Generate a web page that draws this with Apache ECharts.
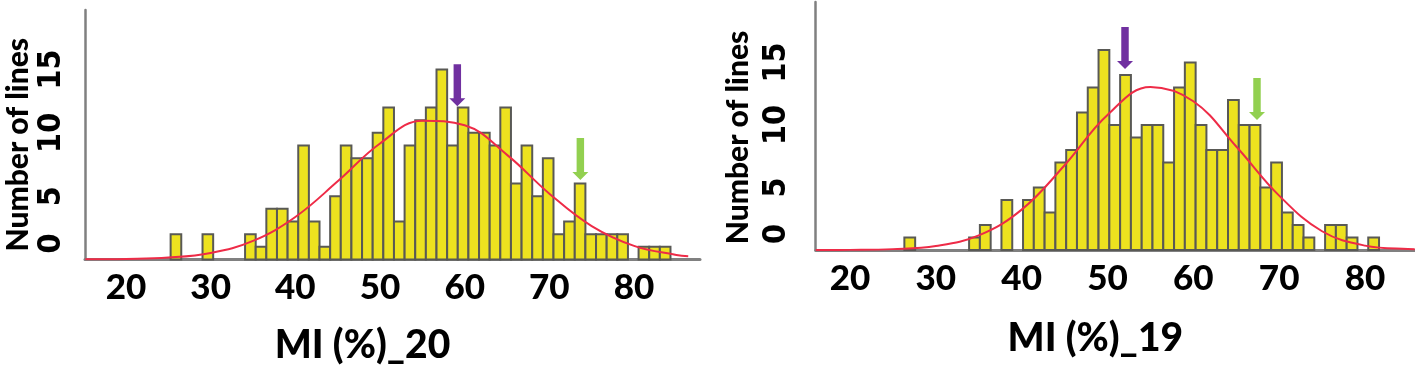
<!DOCTYPE html>
<html>
<head>
<meta charset="utf-8">
<script src="https://cdn.jsdelivr.net/npm/echarts@6/dist/echarts.min.js"></script>
<style>
  html, body { margin: 0; padding: 0; background: #fff; }
  #chart { width: 1415px; height: 374px; }
</style>
</head>
<body>
<div id="chart"></div>
<script>
// histogram counts, read bin by bin
var countsL = [2,0,0,2,0,0,0,2,1,4,4,3,9,3,1,5,9,8,8,10,12,3,9,11,12,15,9,12,10,10,9,12,6,9,5,8,2,3,6,2,2,2,2,0,1,1,1];
var countsR = [1,0,0,0,0,0,1,2,0,4,0,4,5,3,7,8,11,13,16,10,14,9,10,10,7,13,15,10,8,8,12,10,10,5,7,3,2,1,0,2,2,1,0,1];
var binStartL = 25.9, binWidthL = 1.256;
var binStartR = 26.96, binWidthR = 1.257;

// fitted normal curves
var curveXL = [15.2, 20, 25, 30, 35, 40, 45, 50, 55, 60, 65, 70, 75, 80, 85, 86.4];
var curveYL = [0.01, 0.04, 0.15, 0.52, 1.47, 3.36, 6.17, 9.16, 10.96, 10.6, 8.26, 5.2, 2.64, 1.08, 0.36, 0.25];
var curveXR = [16, 20, 25, 30, 35, 40, 45, 50, 55, 60, 65, 70, 75, 80, 85, 85.8];
var curveYR = [0.0, 0.01, 0.07, 0.32, 1.17, 3.23, 6.78, 10.8, 13.04, 11.9, 8.28, 4.35, 1.5, 0.35, 0.08, 0.07];

// arrow tips [x, y]
var arrowsPurple = [[59.13, 12.1], [52.04, 14.48]];
var arrowsGreen = [[73.66, 6.27], [67.42, 10.4]];

var xTicks = [20, 30, 40, 50, 60, 70, 80];
var yTicks = [0, 5, 10, 15];
var xNames = ['MI (%)_20', 'MI (%)_19'];
var yName = 'Number of lines';

var chartDom = document.getElementById('chart');
var myChart = echarts.init(chartDom);

var fontMain = 'Lato, "Open Sans", sans-serif';
var fontNarrow = '"Liberation Sans Narrow", "DejaVu Sans Condensed", Lato, sans-serif';
var arrowPath = 'path://M4 0L11 0L11 34L15 34L7.5 42L0 34L4 34Z';

function bins(counts, start, width) {
    var out = [];
    counts.forEach(function (c, i) {
        out.push([start + i * width, c]);
    });
    return out;
}

function pairs(xs, ys) {
    return xs.map(function (x, i) { return [x, ys[i]]; });
}

function barRenderer(width) {
    return function (params, api) {
        var c = api.value(0), n = api.value(1);
        if (!n) return null;
        var p0 = api.coord([c - width / 2, n]);
        var p1 = api.coord([c + width / 2, 0]);
        return {
            type: 'rect',
            shape: { x: p0[0], y: p0[1], width: p1[0] - p0[0], height: p1[1] - p0[1] },
            style: { fill: '#EDE21F', stroke: '#595955', lineWidth: 2 }
        };
    };
}

function yAxisOf(idx, max, nameGap, namePad, margin) {
    return {
        gridIndex: idx,
        type: 'value',
        min: 0,
        max: max,
        name: yName,
        nameLocation: 'middle',
        nameRotate: 90,
        nameGap: nameGap,
        nameTextStyle: {
            color: '#000', fontSize: 30, fontWeight: 900, fontFamily: fontMain,
            padding: [0, namePad, 0, 0]
        },
        axisLine: { show: true, lineStyle: { color: '#808080', width: 2.5 } },
        axisTick: { show: false },
        splitLine: { show: false },
        axisLabel: {
            customValues: yTicks,
            rotate: 90,
            margin: margin,
            color: '#000',
            fontSize: 32,
            fontWeight: 'bold',
            fontFamily: fontNarrow,
            formatter: function (v) {
                return v === 0 ? '{z|0}' : String(v);
            },
            rich: {
                z: {
                    color: '#000', fontSize: 32, fontWeight: 'bold', fontFamily: fontNarrow,
                    padding: [0, 0, 0, 32]
                }
            }
        }
    };
}

function xAxisOf(idx, min, max, name, nameGap, namePad) {
    return {
        gridIndex: idx,
        type: 'value',
        min: min,
        max: max,
        name: name,
        nameLocation: 'middle',
        nameGap: nameGap,
        nameTextStyle: {
            color: '#000', fontSize: 39, fontWeight: 900, fontFamily: fontMain,
            padding: [0, namePad, 0, 0]
        },
        axisLine: { show: true, onZero: false, lineStyle: { color: '#808080', width: 3 } },
        axisTick: { show: false },
        splitLine: { show: false },
        axisLabel: {
            customValues: xTicks,
            margin: 11,
            color: '#000',
            fontSize: 35,
            fontWeight: 900,
            fontFamily: fontMain
        }
    };
}

function seriesOf(idx, counts, start, width, cx, cy, purple, green) {
    return [
        {
            type: 'custom',
            xAxisIndex: idx, yAxisIndex: idx,
            renderItem: barRenderer(width),
            encode: { x: 0, y: 1 },
            data: bins(counts, start, width),
            silent: true
        },
        {
            type: 'line',
            xAxisIndex: idx, yAxisIndex: idx,
            data: pairs(cx, cy),
            smooth: 0.4,
            showSymbol: false,
            lineStyle: { color: '#EE2B47', width: 2 },
            z: 5,
            silent: true
        },
        {
            type: 'scatter',
            xAxisIndex: idx, yAxisIndex: idx,
            data: [purple],
            symbol: arrowPath,
            symbolSize: [16, 42],
            symbolOffset: [0, -21],
            itemStyle: { color: '#7030A0', opacity: 1 },
            z: 6,
            silent: true
        },
        {
            type: 'scatter',
            xAxisIndex: idx, yAxisIndex: idx,
            data: [green],
            symbol: arrowPath,
            symbolSize: [16, 42],
            symbolOffset: [0, -21],
            itemStyle: { color: '#92D050', opacity: 1 },
            z: 6,
            silent: true
        }
    ];
}

var option = {
    animation: false,
    backgroundColor: '#fff',
    grid: [
        { left: 85, right: 715, top: 10, bottom: 114.5 },
        { left: 815.7, right: 0, top: 2, bottom: 124 }
    ],
    xAxis: [
        xAxisOf(0, 15.16, 87.79, xNames[0], 66, 60),
        xAxisOf(1, 16.0, 85.83, xNames[1], 69, 40)
    ],
    yAxis: [
        yAxisOf(0, 19.7, 52, 20, 17),
        yAxisOf(1, 19.84, 62, 23, 23)
    ],
    series: seriesOf(0, countsL, binStartL, binWidthL, curveXL, curveYL, arrowsPurple[0], arrowsGreen[0])
        .concat(seriesOf(1, countsR, binStartR, binWidthR, curveXR, curveYR, arrowsPurple[1], arrowsGreen[1]))
};

option && myChart.setOption(option);
</script>
</body>
</html>
